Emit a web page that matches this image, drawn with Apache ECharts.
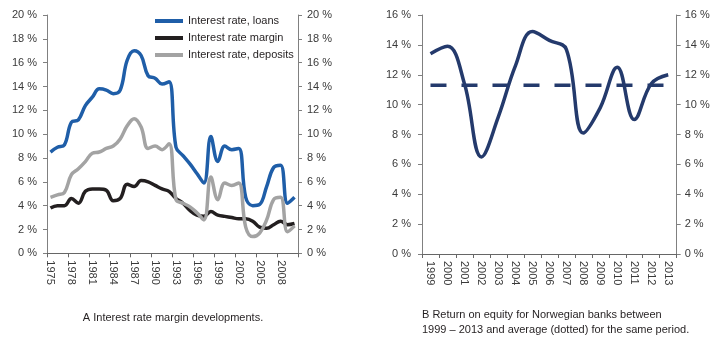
<!DOCTYPE html>
<html><head><meta charset="utf-8">
<script src="https://cdn.jsdelivr.net/npm/echarts@6/dist/echarts.min.js"></script>
<style>html,body{margin:0;padding:0;background:#fff}#c{width:720px;height:362px}</style>
</head><body><div id="c"></div>
<script>
var yearsA = ['1975','1976','1977','1978','1979','1980','1981','1982','1983','1984','1985','1986','1987','1988','1989','1990','1991','1992','1993','1994','1995','1996','1997','1998','1999','2000','2001','2002','2003','2004','2005','2006','2007','2008','2009','2010'];
var loans = [8.5,8.9,9.1,11.0,11.2,12.4,13.1,13.8,13.7,13.4,13.7,16.2,17.0,16.6,14.9,14.7,14.2,14.4,8.9,8.2,7.5,6.7,5.9,9.8,7.7,9.0,8.7,8.8,4.7,4.0,4.1,5.6,7.2,7.4,4.2,4.7];
var margin = [3.8,4.0,4.0,4.6,4.2,5.2,5.4,5.4,5.3,4.4,4.6,5.8,5.6,6.1,6.0,5.7,5.4,5.2,4.6,4.2,3.6,3.2,3.1,3.5,3.2,3.1,3.0,2.9,2.9,2.7,2.2,2.1,2.4,2.7,2.4,2.5];
var deposits = [4.7,4.9,5.1,6.6,7.1,7.7,8.4,8.5,8.8,9.0,9.6,10.7,11.3,10.6,8.8,9.0,8.7,9.2,4.5,4.2,3.9,3.4,2.8,6.4,4.5,5.9,5.7,5.9,2.2,1.4,1.7,2.8,4.5,4.7,1.8,2.3];
var yearsB = ['1999','2000','2001','2002','2003','2004','2005','2006','2007','2008','2009','2010','2011','2012','2013'];
var roe = [13.4,13.9,11.4,6.5,9.2,12.6,14.9,14.3,13.7,8.1,9.8,12.5,9.0,11.4,12.0];
var roeAvg = [11.3,11.3,11.3,11.3,11.3,11.3,11.3,11.3,11.3,11.3,11.3,11.3,11.3,11.3,11.3];

var font = 'Liberation Sans, Arial, sans-serif';
var axCol = '#808080';
function yAx(grid, max, pos, margin) {
  return {type:'value', gridIndex:grid, position:pos, min:0, max:max, interval:2,
    axisLine:{show:true, lineStyle:{color:axCol, width:1}},
    axisTick:{show:true, length:4, lineStyle:{color:axCol}},
    splitLine:{show:false},
    axisLabel:{formatter:'{value} %', fontFamily:font, fontSize:11, color:'#3a3a3a', margin:margin}};
}
function xAx(grid, data, interval) {
  return {type:'category', gridIndex:grid, data:data, boundaryGap:true,
    axisLine:{show:true, lineStyle:{color:'#666', width:1}},
    axisTick:{show:true, length:4, interval:interval, lineStyle:{color:'#666'}},
    axisLabel:{interval:interval, rotate:-90, fontFamily:font, fontSize:11, color:'#3a3a3a', margin:7}};
}
function line(name, data, color, xi, yi, extra) {
  var s = {name:name, type:'line', data:data, xAxisIndex:xi, yAxisIndex:yi, smooth:0.4,
    showSymbol:false, symbol:'none', lineStyle:{color:color, width:3.5}, itemStyle:{color:color}, z:3};
  if (extra) for (var k in extra) s[k] = extra[k];
  return s;
}
var chart = echarts.init(document.getElementById('c'), null, {renderer:'canvas'});
chart.setOption({
  animation:false,
  backgroundColor:'#fff',
  grid:[
    {left:47, top:15, width:251, height:238.3},
    {left:422, top:15, width:254.7, height:239}
  ],
  xAxis:[xAx(0, yearsA, 2), xAx(1, yearsB, 0)],
  yAxis:[yAx(0,20,'left',10), yAx(0,20,'right',9), yAx(1,16,'left',11), yAx(1,16,'right',8)],
  legend:{orient:'vertical', left:150, top:9, itemWidth:28, itemHeight:4, itemGap:3, icon:'rect',
    textStyle:{fontFamily:font, fontSize:11, color:'#231f20', lineHeight:14},
    data:['Interest rate, loans','Interest rate margin','Interest rate, deposits']},
  series:[
    line('Interest rate, loans', loans, '#1f5ea8', 0, 0),
    line('Interest rate margin', margin, '#231f20', 0, 0),
    line('Interest rate, deposits', deposits, '#a3a3a3', 0, 0),
    line('ROE', roe, '#243a6c', 1, 2),
    line('Average', roeAvg, '#243a6c', 1, 2, {smooth:false, lineStyle:{color:'#243a6c', width:3.5, type:[16,15]}})
  ],
  graphic:[
    {type:'text', x:173, y:312, style:{text:'A Interest rate margin developments.', font:'11px ' + font, fill:'#231f20', textAlign:'center'}},
    {type:'text', x:422, y:307, style:{text:'B Return on equity for Norwegian banks between\n1999 \u2013 2013 and average (dotted) for the same period.', font:'11px ' + font, fill:'#231f20', lineHeight:15}}
  ]
});
</script></body></html>
